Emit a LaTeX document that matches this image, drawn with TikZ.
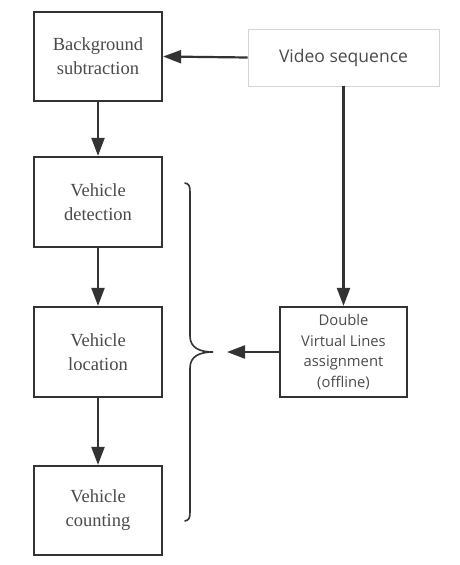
\documentclass[tikz,border=0pt]{standalone}
\usepackage{fontspec}
\setmainfont{Liberation Serif}
\newfontfamily\sansf{Open Sans}
\usetikzlibrary{arrows.meta}
\definecolor{ln}{HTML}{333333}
\definecolor{tx}{HTML}{4A4A4A}
\definecolor{lb}{HTML}{D4D4D4}
\begin{document}
\begin{tikzpicture}[x=1pt,y=-1pt,
  sbox/.style={draw=ln,line width=2.2pt,minimum width=128pt,minimum height=89pt,align=center,text=tx,font=\fontsize{18.5}{24}\selectfont,inner sep=0pt},
  vbox/.style={draw=lb,line width=0.8pt,minimum width=191pt,minimum height=57pt,align=center,text=tx,font=\sansf\fontsize{17.5}{21}\selectfont,inner sep=0pt},
  dbox/.style={draw=ln,line width=2.2pt,minimum width=127pt,minimum height=90pt,align=center,text=tx,font=\sansf\fontsize{14.8}{20.5}\selectfont,inner sep=0pt},
  arr/.style={draw=ln,line width=2.2pt,-{Triangle[length=18pt,width=13pt]}}]
\useasboundingbox (0,0) rectangle (460,565);
\node[sbox] (bg) at (98,56.5) {Background\\subtraction};
\node[vbox] (vs) at (343.5,57.5) {Video sequence};
\node[sbox,minimum height=90pt] (det) at (98,202) {Vehicle\\detection};
\node[sbox,minimum height=90pt] (loc) at (98,352) {Vehicle\\location};
\node[sbox] (cnt) at (98,510.5) {Vehicle\\counting};
\node[dbox] (dvl) at (343.5,352) {Double\\Virtual Lines\\assignment\\(offline)};
\coordinate (tip) at (227,352);
\draw[arr] (vs.west) -- (bg.east);
\draw[arr] (bg) -- (det);
\draw[arr] (det) -- (loc);
\draw[arr] (loc) -- (cnt);
\draw[arr] (vs.south) -- (dvl.north);
\draw[arr] (dvl.west) -- (tip);
\draw[draw=ln,line width=1.6pt,line cap=round]
  (185,183) .. controls (189,184) and (190,186) .. (190,192)
  -- (190,336) .. controls (190,348) and (200,352) .. (213,352)
  .. controls (200,352) and (190,356) .. (190,368)
  -- (190,512) .. controls (190,518) and (189,520) .. (185,521);
\end{tikzpicture}
\end{document}
